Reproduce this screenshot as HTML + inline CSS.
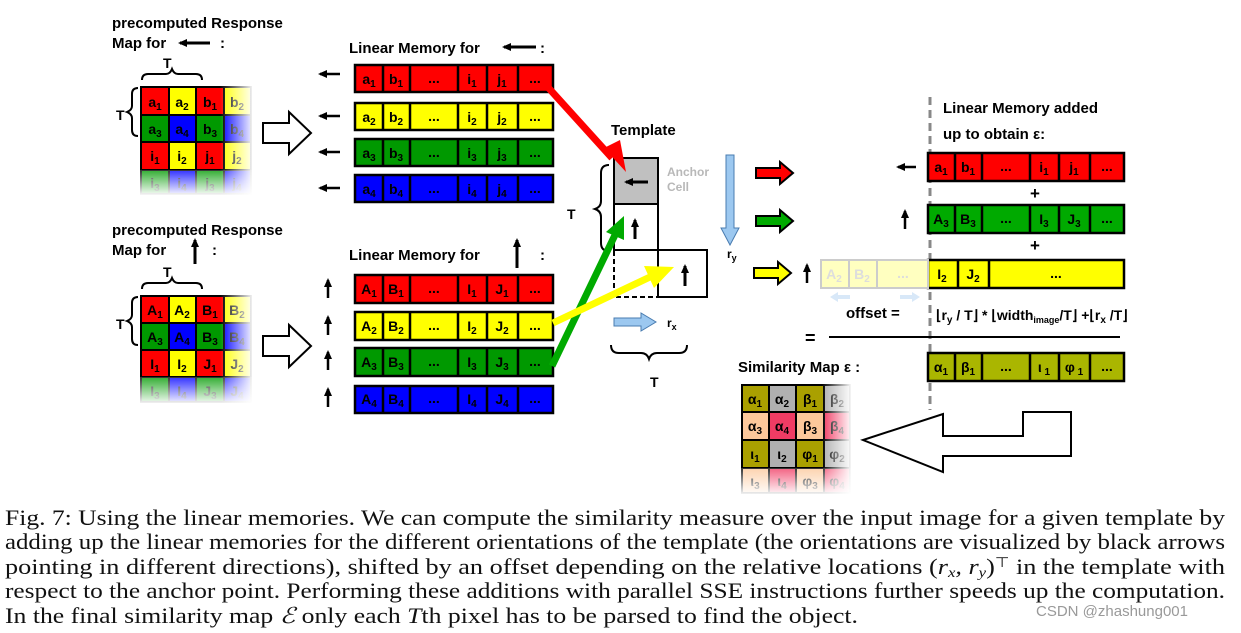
<!DOCTYPE html>
<html><head><meta charset="utf-8"><style>
html,body{margin:0;padding:0;background:#fff;}
svg{display:block}
.b{font-family:"Liberation Sans",sans-serif;font-weight:bold;}
.c{font-family:"Liberation Sans",sans-serif;font-weight:bold;font-size:14px;text-anchor:middle;}
.cap{font-family:"Liberation Serif",serif;font-size:22px;fill:#111;}
</style></head><body>
<svg width="1241" height="633" viewBox="0 0 1241 633" xmlns="http://www.w3.org/2000/svg">
<defs>
<linearGradient id="fr" x1="0" x2="1" y1="0" y2="0"><stop offset="0" stop-color="#fff" stop-opacity="0"/><stop offset="1" stop-color="#fff" stop-opacity="1"/></linearGradient>
<linearGradient id="fd" x1="0" x2="0" y1="0" y2="1"><stop offset="0" stop-color="#fff" stop-opacity="0.2"/><stop offset="1" stop-color="#fff" stop-opacity="1"/></linearGradient>
<marker id="ah" markerUnits="userSpaceOnUse" markerWidth="10" markerHeight="10" refX="7" refY="5" orient="auto"><path d="M0,1 L9,5 L0,9 z" fill="#000"/></marker>
</defs>

<!-- top-left labels -->
<text class="b" x="112" y="28" font-size="15">precomputed Response</text>
<text class="b" x="112" y="48" font-size="15">Map for</text>
<line x1="210" y1="43" x2="180" y2="43" stroke="#000" stroke-width="3" marker-end="url(#ah)"/>
<text class="b" x="220" y="48" font-size="15">:</text>
<text class="b" x="163" y="68" font-size="14">T</text>
<path d="M142,80 q0,-6 6,-6 h18 q4,0 6,-5 q2,5 6,5 h18 q6,0 6,6" fill="none" stroke="#000" stroke-width="2"/>
<text class="b" x="116" y="120" font-size="14">T</text>
<path d="M138,88 q-6,0 -6,6 v12 q0,4 -5,6 q5,2 5,6 v12 q0,6 6,6" fill="none" stroke="#000" stroke-width="2"/>

<!-- top grid -->
<g stroke="#000" stroke-width="2">
<rect x="141" y="87" width="28" height="28" fill="#f00"/><rect x="169" y="87" width="27" height="28" fill="#ff0"/><rect x="196" y="87" width="28" height="28" fill="#f00"/><rect x="224" y="87" width="27" height="28" fill="#ff0"/>
<rect x="141" y="115" width="28" height="27" fill="#090"/><rect x="169" y="115" width="27" height="27" fill="#00f"/><rect x="196" y="115" width="28" height="27" fill="#090"/><rect x="224" y="115" width="27" height="27" fill="#00f"/>
<rect x="141" y="142" width="28" height="28" fill="#f00"/><rect x="169" y="142" width="27" height="28" fill="#ff0"/><rect x="196" y="142" width="28" height="28" fill="#f00"/><rect x="224" y="142" width="27" height="28" fill="#ff0"/>
<rect x="141" y="170" width="28" height="24" fill="#090"/><rect x="169" y="170" width="27" height="24" fill="#00f"/><rect x="196" y="170" width="28" height="24" fill="#090"/><rect x="224" y="170" width="27" height="24" fill="#00f"/>
</g>
<g class="c">
<text x="155" y="107">a<tspan font-size="10" dy="3">1</tspan></text><text x="182" y="107">a<tspan font-size="10" dy="3">2</tspan></text><text x="210" y="107">b<tspan font-size="10" dy="3">1</tspan></text><text x="237" y="107">b<tspan font-size="10" dy="3">2</tspan></text>
<text x="155" y="134">a<tspan font-size="10" dy="3">3</tspan></text><text x="182" y="134">a<tspan font-size="10" dy="3">4</tspan></text><text x="210" y="134">b<tspan font-size="10" dy="3">3</tspan></text><text x="237" y="134">b<tspan font-size="10" dy="3">4</tspan></text>
<text x="155" y="161">i<tspan font-size="10" dy="3">1</tspan></text><text x="182" y="161">i<tspan font-size="10" dy="3">2</tspan></text><text x="210" y="161">j<tspan font-size="10" dy="3">1</tspan></text><text x="237" y="161">j<tspan font-size="10" dy="3">2</tspan></text>
<text x="155" y="188">i<tspan font-size="10" dy="3">3</tspan></text><text x="182" y="188">i<tspan font-size="10" dy="3">4</tspan></text><text x="210" y="188">j<tspan font-size="10" dy="3">3</tspan></text><text x="237" y="188">j<tspan font-size="10" dy="3">4</tspan></text>
</g>
<rect x="220" y="84" width="34" height="112" fill="url(#fr)"/>
<rect x="138" y="170" width="116" height="26" fill="url(#fd)"/>

<!-- bottom-left labels -->
<text class="b" x="112" y="235" font-size="15">precomputed Response</text>
<text class="b" x="112" y="255" font-size="15">Map for</text>
<line x1="195" y1="264" x2="195" y2="240" stroke="#000" stroke-width="3" marker-end="url(#ah)"/>
<text class="b" x="212" y="255" font-size="15">:</text>
<text class="b" x="163" y="277" font-size="14">T</text>
<path d="M142,289 q0,-6 6,-6 h18 q4,0 6,-5 q2,5 6,5 h18 q6,0 6,6" fill="none" stroke="#000" stroke-width="2"/>
<text class="b" x="116" y="329" font-size="14">T</text>
<path d="M138,297 q-6,0 -6,6 v12 q0,4 -5,6 q5,2 5,6 v12 q0,6 6,6" fill="none" stroke="#000" stroke-width="2"/>
<g stroke="#000" stroke-width="2">
<rect x="141" y="296" width="28" height="27" fill="#f00"/><rect x="169" y="296" width="27" height="27" fill="#ff0"/><rect x="196" y="296" width="28" height="27" fill="#f00"/><rect x="224" y="296" width="27" height="27" fill="#ff0"/>
<rect x="141" y="323" width="28" height="27" fill="#090"/><rect x="169" y="323" width="27" height="27" fill="#00f"/><rect x="196" y="323" width="28" height="27" fill="#090"/><rect x="224" y="323" width="27" height="27" fill="#00f"/>
<rect x="141" y="350" width="28" height="27" fill="#f00"/><rect x="169" y="350" width="27" height="27" fill="#ff0"/><rect x="196" y="350" width="28" height="27" fill="#f00"/><rect x="224" y="350" width="27" height="27" fill="#ff0"/>
<rect x="141" y="377" width="28" height="25" fill="#090"/><rect x="169" y="377" width="27" height="25" fill="#00f"/><rect x="196" y="377" width="28" height="25" fill="#090"/><rect x="224" y="377" width="27" height="25" fill="#00f"/>
</g>
<g class="c">
<text x="155" y="315">A<tspan font-size="10" dy="3">1</tspan></text><text x="182" y="315">A<tspan font-size="10" dy="3">2</tspan></text><text x="210" y="315">B<tspan font-size="10" dy="3">1</tspan></text><text x="237" y="315">B<tspan font-size="10" dy="3">2</tspan></text>
<text x="155" y="342">A<tspan font-size="10" dy="3">3</tspan></text><text x="182" y="342">A<tspan font-size="10" dy="3">4</tspan></text><text x="210" y="342">B<tspan font-size="10" dy="3">3</tspan></text><text x="237" y="342">B<tspan font-size="10" dy="3">4</tspan></text>
<text x="155" y="369">I<tspan font-size="10" dy="3">1</tspan></text><text x="182" y="369">I<tspan font-size="10" dy="3">2</tspan></text><text x="210" y="369">J<tspan font-size="10" dy="3">1</tspan></text><text x="237" y="369">J<tspan font-size="10" dy="3">2</tspan></text>
<text x="155" y="396">I<tspan font-size="10" dy="3">3</tspan></text><text x="182" y="396">I<tspan font-size="10" dy="3">4</tspan></text><text x="210" y="396">J<tspan font-size="10" dy="3">3</tspan></text><text x="237" y="396">J<tspan font-size="10" dy="3">4</tspan></text>
</g>
<rect x="220" y="293" width="34" height="112" fill="url(#fr)"/>
<rect x="138" y="377" width="116" height="28" fill="url(#fd)"/>

<!-- hollow arrows -->
<path d="M263,123 h26 v-11 l22,21 l-22,21 v-11 h-26 z" fill="#fff" stroke="#000" stroke-width="2"/>
<path d="M263,336 h26 v-11 l22,21 l-22,21 v-11 h-26 z" fill="#fff" stroke="#000" stroke-width="2"/>

<!-- Linear memory top -->
<text class="b" x="349" y="53" font-size="15">Linear Memory for</text>
<line x1="536" y1="47" x2="504" y2="47" stroke="#000" stroke-width="3" marker-end="url(#ah)"/>
<text class="b" x="540" y="53" font-size="15">:</text>
<g stroke="#000" stroke-width="2.5">
<line x1="340" y1="74" x2="320" y2="74" marker-end="url(#ah)"/>
<line x1="340" y1="116" x2="320" y2="116" marker-end="url(#ah)"/>
<line x1="340" y1="152" x2="320" y2="152" marker-end="url(#ah)"/>
<line x1="340" y1="188" x2="320" y2="188" marker-end="url(#ah)"/>
</g>
<g stroke="#000" stroke-width="2.5">
<rect x="355" y="65" width="198" height="27" fill="#f00"/>
<rect x="355" y="103" width="198" height="27" fill="#ff0"/>
<rect x="355" y="139" width="198" height="27" fill="#090"/>
<rect x="355" y="175" width="198" height="27" fill="#00f"/>
<path d="M383,65v27M410,65v27M458,65v27M487,65v27M518,65v27 M383,103v27M410,103v27M458,103v27M487,103v27M518,103v27 M383,139v27M410,139v27M458,139v27M487,139v27M518,139v27 M383,175v27M410,175v27M458,175v27M487,175v27M518,175v27"/>
</g>
<g class="c">
<text x="369" y="84">a<tspan font-size="10" dy="3">1</tspan></text><text x="396" y="84">b<tspan font-size="10" dy="3">1</tspan></text><text x="434" y="83">...</text><text x="472" y="84">i<tspan font-size="10" dy="3">1</tspan></text><text x="502" y="84">j<tspan font-size="10" dy="3">1</tspan></text><text x="535" y="83">...</text>
<text x="369" y="122">a<tspan font-size="10" dy="3">2</tspan></text><text x="396" y="122">b<tspan font-size="10" dy="3">2</tspan></text><text x="434" y="121">...</text><text x="472" y="122">i<tspan font-size="10" dy="3">2</tspan></text><text x="502" y="122">j<tspan font-size="10" dy="3">2</tspan></text><text x="535" y="121">...</text>
<text x="369" y="158">a<tspan font-size="10" dy="3">3</tspan></text><text x="396" y="158">b<tspan font-size="10" dy="3">3</tspan></text><text x="434" y="157">...</text><text x="472" y="158">i<tspan font-size="10" dy="3">3</tspan></text><text x="502" y="158">j<tspan font-size="10" dy="3">3</tspan></text><text x="535" y="157">...</text>
<text x="369" y="194">a<tspan font-size="10" dy="3">4</tspan></text><text x="396" y="194">b<tspan font-size="10" dy="3">4</tspan></text><text x="434" y="193">...</text><text x="472" y="194">i<tspan font-size="10" dy="3">4</tspan></text><text x="502" y="194">j<tspan font-size="10" dy="3">4</tspan></text><text x="535" y="193">...</text>
</g>

<!-- Linear memory bottom -->
<text class="b" x="349" y="260" font-size="15">Linear Memory for</text>
<line x1="517" y1="268" x2="517" y2="240" stroke="#000" stroke-width="3" marker-end="url(#ah)"/>
<text class="b" x="540" y="260" font-size="15">:</text>
<g stroke="#000" stroke-width="2.5">
<line x1="328" y1="298" x2="328" y2="280" marker-end="url(#ah)"/>
<line x1="328" y1="335" x2="328" y2="317" marker-end="url(#ah)"/>
<line x1="328" y1="370" x2="328" y2="352" marker-end="url(#ah)"/>
<line x1="328" y1="407" x2="328" y2="389" marker-end="url(#ah)"/>
</g>
<g stroke="#000" stroke-width="2.5">
<rect x="355" y="275" width="198" height="28" fill="#f00"/>
<rect x="355" y="312" width="198" height="28" fill="#ff0"/>
<rect x="355" y="348" width="198" height="28" fill="#090"/>
<rect x="355" y="386" width="198" height="27" fill="#00f"/>
<path d="M383,275v28M410,275v28M458,275v28M487,275v28M518,275v28 M383,312v28M410,312v28M458,312v28M487,312v28M518,312v28 M383,348v28M410,348v28M458,348v28M487,348v28M518,348v28 M383,386v27M410,386v27M458,386v27M487,386v27M518,386v27"/>
</g>
<g class="c">
<text x="369" y="294">A<tspan font-size="10" dy="3">1</tspan></text><text x="396" y="294">B<tspan font-size="10" dy="3">1</tspan></text><text x="434" y="293">...</text><text x="472" y="294">I<tspan font-size="10" dy="3">1</tspan></text><text x="502" y="294">J<tspan font-size="10" dy="3">1</tspan></text><text x="535" y="293">...</text>
<text x="369" y="331">A<tspan font-size="10" dy="3">2</tspan></text><text x="396" y="331">B<tspan font-size="10" dy="3">2</tspan></text><text x="434" y="330">...</text><text x="472" y="331">I<tspan font-size="10" dy="3">2</tspan></text><text x="502" y="331">J<tspan font-size="10" dy="3">2</tspan></text><text x="535" y="330">...</text>
<text x="369" y="367">A<tspan font-size="10" dy="3">3</tspan></text><text x="396" y="367">B<tspan font-size="10" dy="3">3</tspan></text><text x="434" y="366">...</text><text x="472" y="367">I<tspan font-size="10" dy="3">3</tspan></text><text x="502" y="367">J<tspan font-size="10" dy="3">3</tspan></text><text x="535" y="366">...</text>
<text x="369" y="404">A<tspan font-size="10" dy="3">4</tspan></text><text x="396" y="404">B<tspan font-size="10" dy="3">4</tspan></text><text x="434" y="403">...</text><text x="472" y="404">I<tspan font-size="10" dy="3">4</tspan></text><text x="502" y="404">J<tspan font-size="10" dy="3">4</tspan></text><text x="535" y="403">...</text>
</g>

<!-- Template -->
<text class="b" x="611" y="135" font-size="15">Template</text>
<rect x="614" y="158" width="44" height="46" fill="#c0c0c0" stroke="#000" stroke-width="2"/>
<rect x="614" y="204" width="44" height="46" fill="#fff" stroke="#000" stroke-width="2"/>
<rect x="614" y="250" width="44" height="47" fill="none" stroke="#000" stroke-width="2" stroke-dasharray="5,3"/>
<rect x="658" y="250" width="49" height="47" fill="#fff" stroke="#000" stroke-width="2"/>
<g stroke="#000" stroke-width="3">
<line x1="648" y1="182" x2="626" y2="182" marker-end="url(#ah)"/>
<line x1="635" y1="239" x2="635" y2="220" marker-end="url(#ah)"/>
<line x1="685" y1="286" x2="685" y2="266" marker-end="url(#ah)"/>
</g>
<text class="b" x="667" y="176" font-size="12" fill="#b8b8b8">Anchor</text>
<text class="b" x="667" y="191" font-size="12" fill="#b8b8b8">Cell</text>
<text class="b" x="567" y="219" font-size="14">T</text>
<path d="M609,165 q-8,0 -8,8 v28 q0,6 -6,8 q6,2 6,8 v26 q0,8 8,8" fill="none" stroke="#000" stroke-width="2"/>
<path d="M611,345 q0,8 8,8 h22 q6,0 8,6 q2,-6 8,-6 h22 q8,0 8,-8" fill="none" stroke="#000" stroke-width="2"/>
<text class="b" x="650" y="387" font-size="14">T</text>
<!-- blue arrows -->
<path d="M726,155 h8 v73 h5 l-9,17 l-9,-17 h5 z" fill="#9cc8f0" stroke="#4a7cb0" stroke-width="1"/>
<text class="b" x="727" y="258" font-size="12">r<tspan font-size="9" dy="3">y</tspan></text>
<path d="M614,318 h27 v-5 l15,9 l-15,9 v-5 h-27 z" fill="#9cc8f0" stroke="#4a7cb0" stroke-width="1"/>
<text class="b" x="667" y="327" font-size="12">r<tspan font-size="9" dy="3">x</tspan></text>

<!-- colored connectors -->
<line x1="545" y1="84" x2="612" y2="158" stroke="#f00" stroke-width="7"/>
<path d="M604,148 L626,172 L620,140 z" fill="#f00"/>
<line x1="552" y1="366" x2="615" y2="235" stroke="#0a0" stroke-width="7"/>
<path d="M606,232 L624,216 L624,240 z" fill="#0a0"/>
<line x1="553" y1="323" x2="650" y2="277" stroke="#ff0" stroke-width="7"/>
<path d="M644,266 L674,267 L654,288 z" fill="#ff0"/>

<!-- right side small hollow color arrows -->
<path d="M756,168 h24 v-6 l13,11 l-13,11 v-6 h-24 z" fill="#f00" stroke="#000" stroke-width="2"/>
<path d="M756,216 h24 v-6 l13,11 l-13,11 v-6 h-24 z" fill="#0a0" stroke="#000" stroke-width="2"/>
<path d="M754,268 h24 v-6 l13,11 l-13,11 v-6 h-24 z" fill="#ff0" stroke="#000" stroke-width="2"/>
<g stroke="#000" stroke-width="2.5">
<line x1="916" y1="167" x2="898" y2="167" marker-end="url(#ah)"/>
<line x1="905" y1="229" x2="905" y2="211" marker-end="url(#ah)"/>
<line x1="807" y1="283" x2="807" y2="265" marker-end="url(#ah)"/>
</g>

<!-- dashed vertical -->
<line x1="930" y1="97" x2="930" y2="410" stroke="#888" stroke-width="3" stroke-dasharray="8,5"/>
<text class="b" x="943" y="113" font-size="15">Linear Memory added</text>
<text class="b" x="943" y="139" font-size="15">up to obtain ε:</text>

<g stroke="#000" stroke-width="2.5">
<rect x="928" y="153" width="196" height="28" fill="#f00"/>
<path d="M955,153v28M982,153v28M1030,153v28M1059,153v28M1090,153v28"/>
<rect x="928" y="205" width="196" height="28" fill="#0a0"/>
<path d="M955,205v28M982,205v28M1030,205v28M1059,205v28M1090,205v28"/>
<rect x="928" y="260" width="196" height="28" fill="#ff0"/>
<path d="M958,260v28M989,260v28"/>
<rect x="928" y="353" width="196" height="28" fill="#aab600"/>
<path d="M955,353v28M982,353v28M1030,353v28M1059,353v28M1090,353v28"/>
</g>
<g stroke="#ccc" stroke-width="2" fill="#ffffc0">
<rect x="821" y="260" width="107" height="28"/>
<path d="M849,260v28M877,260v28"/>
</g>
<g class="c">
<text x="941" y="172">a<tspan font-size="10" dy="3">1</tspan></text><text x="968" y="172">b<tspan font-size="10" dy="3">1</tspan></text><text x="1006" y="171">...</text><text x="1044" y="172">i<tspan font-size="10" dy="3">1</tspan></text><text x="1074" y="172">j<tspan font-size="10" dy="3">1</tspan></text><text x="1107" y="171">...</text>
<text x="941" y="224">A<tspan font-size="10" dy="3">3</tspan></text><text x="968" y="224">B<tspan font-size="10" dy="3">3</tspan></text><text x="1006" y="223">...</text><text x="1044" y="224">I<tspan font-size="10" dy="3">3</tspan></text><text x="1074" y="224">J<tspan font-size="10" dy="3">3</tspan></text><text x="1107" y="223">...</text>
<text x="942" y="279">I<tspan font-size="10" dy="3">2</tspan></text><text x="973" y="279">J<tspan font-size="10" dy="3">2</tspan></text><text x="1056" y="278">...</text>
<text x="834" y="279" fill="#ddd">A<tspan font-size="10" dy="3">2</tspan></text><text x="862" y="279" fill="#ddd">B<tspan font-size="10" dy="3">2</tspan></text><text x="903" y="278" fill="#ddd">...</text>
<text x="941" y="372">α<tspan font-size="10" dy="3">1</tspan></text><text x="968" y="372">β<tspan font-size="10" dy="3">1</tspan></text><text x="1006" y="371">...</text><text x="1044" y="372">ι<tspan font-size="10" dy="3"> 1</tspan></text><text x="1074" y="372">φ<tspan font-size="10" dy="3"> 1</tspan></text><text x="1107" y="371">...</text>
</g>
<text class="b" x="1030" y="199" font-size="17">+</text>
<text class="b" x="1030" y="251" font-size="17">+</text>
<!-- faint shift arrows -->
<path d="M830,297 l8,-5 v3 h12 v4 h-12 v3 z" fill="#d8e8f8"/>
<path d="M900,295 h12 v-3 l8,5 l-8,5 v-3 h-12 z" fill="#d8e8f8"/>
<text class="b" x="846" y="318" font-size="15">offset  =</text>
<text class="b" x="936" y="320" font-size="14">⌊r<tspan font-size="10" dy="3">y</tspan><tspan dy="-3"> / T⌋ * ⌊width</tspan><tspan font-size="9" dy="3">image</tspan><tspan dy="-3">/T⌋ +⌊r</tspan><tspan font-size="10" dy="3">x</tspan><tspan dy="-3"> /T⌋</tspan></text>
<text class="b" x="805" y="344" font-size="18">=</text>
<line x1="829" y1="337" x2="1120" y2="337" stroke="#000" stroke-width="2"/>

<!-- similarity map -->
<text class="b" x="738" y="372" font-size="15">Similarity Map ε :</text>
<g stroke="#000" stroke-width="2">
<rect x="742" y="385" width="27" height="27" fill="#aaa000"/><rect x="769" y="385" width="27" height="27" fill="#b0b0b0"/><rect x="796" y="385" width="28" height="27" fill="#aaa000"/><rect x="824" y="385" width="26" height="27" fill="#b0b0b0"/>
<rect x="742" y="412" width="27" height="28" fill="#fcc89b"/><rect x="769" y="412" width="27" height="28" fill="#f03c64"/><rect x="796" y="412" width="28" height="28" fill="#fcc89b"/><rect x="824" y="412" width="26" height="28" fill="#f03c64"/>
<rect x="742" y="440" width="27" height="28" fill="#aaa000"/><rect x="769" y="440" width="27" height="28" fill="#b0b0b0"/><rect x="796" y="440" width="28" height="28" fill="#aaa000"/><rect x="824" y="440" width="26" height="28" fill="#b0b0b0"/>
<rect x="742" y="468" width="27" height="25" fill="#fcc89b"/><rect x="769" y="468" width="27" height="25" fill="#f03c64"/><rect x="796" y="468" width="28" height="25" fill="#fcc89b"/><rect x="824" y="468" width="26" height="25" fill="#f03c64"/>
</g>
<g class="c">
<text x="755" y="404">α<tspan font-size="10" dy="3">1</tspan></text><text x="782" y="404">α<tspan font-size="10" dy="3">2</tspan></text><text x="810" y="404">β<tspan font-size="10" dy="3">1</tspan></text><text x="837" y="404">β<tspan font-size="10" dy="3">2</tspan></text>
<text x="755" y="431">α<tspan font-size="10" dy="3">3</tspan></text><text x="782" y="431">α<tspan font-size="10" dy="3">4</tspan></text><text x="810" y="431">β<tspan font-size="10" dy="3">3</tspan></text><text x="837" y="431">β<tspan font-size="10" dy="3">4</tspan></text>
<text x="755" y="459">ι<tspan font-size="10" dy="3">1</tspan></text><text x="782" y="459">ι<tspan font-size="10" dy="3">2</tspan></text><text x="810" y="459">φ<tspan font-size="10" dy="3">1</tspan></text><text x="837" y="459">φ<tspan font-size="10" dy="3">2</tspan></text>
<text x="755" y="486">ι<tspan font-size="10" dy="3">3</tspan></text><text x="782" y="486">ι<tspan font-size="10" dy="3">4</tspan></text><text x="810" y="486">φ<tspan font-size="10" dy="3">3</tspan></text><text x="837" y="486">φ<tspan font-size="10" dy="3">4</tspan></text>
</g>
<rect x="822" y="382" width="30" height="114" fill="url(#fr)"/>
<rect x="739" y="468" width="113" height="28" fill="url(#fd)"/>
<!-- big hollow arrow -->
<path d="M1071,412 v44 h-128 v16 l-80,-32 l80,-26 v22 h80 v-24 z" fill="#fff" stroke="#000" stroke-width="2"/>

<!-- caption -->
<text class="cap" x="5" y="525" textLength="1220" lengthAdjust="spacingAndGlyphs">Fig. 7:  Using the linear memories. We can compute the similarity measure over the input image for a given template by</text>
<text class="cap" x="5" y="549" textLength="1220" lengthAdjust="spacingAndGlyphs">adding up the linear memories for the different orientations of the template (the orientations are visualized by black arrows</text>
<text class="cap" x="5" y="574" textLength="1220" lengthAdjust="spacingAndGlyphs">pointing in different directions), shifted by an offset depending on the relative locations (<tspan font-style="italic">r<tspan font-size="14" dy="3">x</tspan><tspan dy="-3">, r</tspan><tspan font-size="14" dy="3">y</tspan></tspan><tspan dy="-3">)</tspan><tspan font-size="14" dy="-7">⊤</tspan><tspan dy="7"> in the template with</tspan></text>
<text class="cap" x="5" y="598" textLength="1220" lengthAdjust="spacingAndGlyphs">respect to the anchor point. Performing these additions with parallel SSE instructions further speeds up the computation.</text>
<text class="cap" x="5" y="623" textLength="853" lengthAdjust="spacingAndGlyphs">In the final similarity map <tspan font-style="italic">ℰ</tspan> only each <tspan font-style="italic">T</tspan>th pixel has to be parsed to find the object.</text>
<text x="1036" y="616" font-family="Liberation Sans,sans-serif" font-size="15" fill="#999">CSDN @zhashung001</text>
</svg>
</body></html>
